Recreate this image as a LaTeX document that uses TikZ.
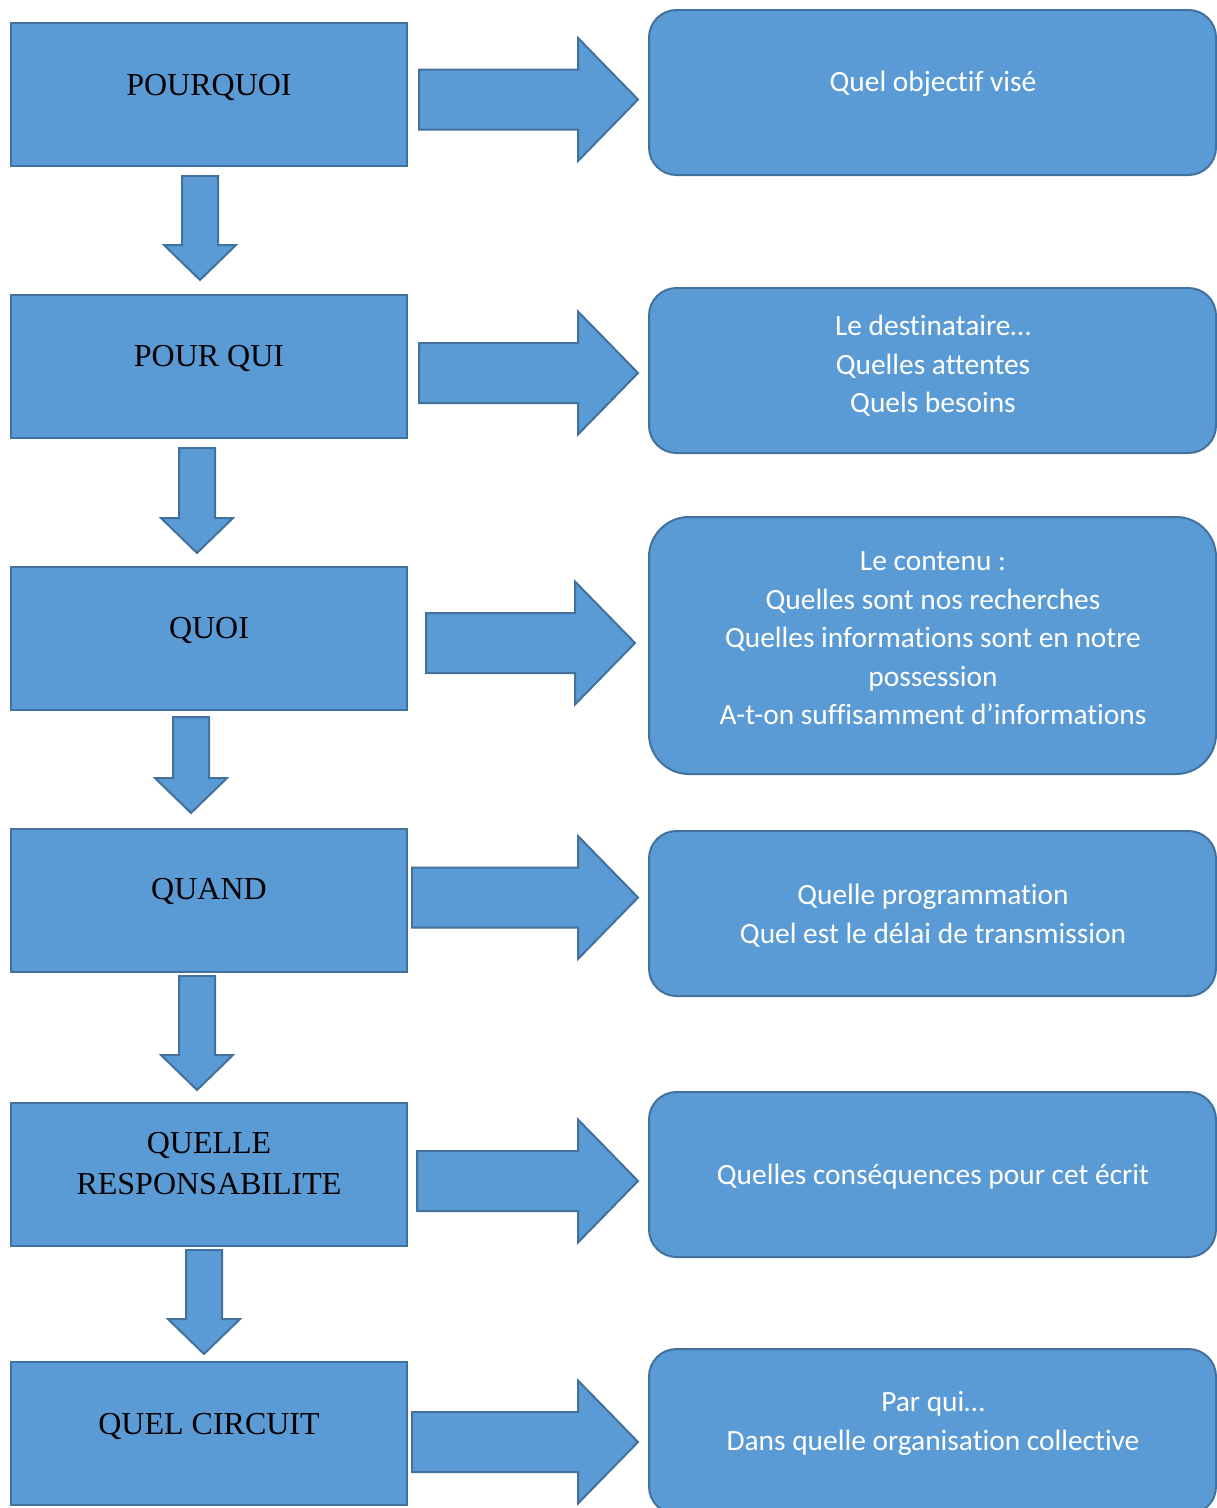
\documentclass[tikz,border=0pt]{standalone}
\usepackage{fontspec}
\setmainfont{Liberation Serif}
\newfontfamily\calib[Ligatures=NoCommon]{Carlito}
\definecolor{boxfill}{HTML}{5B9BD5}
\definecolor{boxline}{HTML}{41719C}
\tikzset{
  shapestyle/.style={fill=boxfill, draw=boxline, line width=2pt, line join=miter},
  question/.style={shapestyle, rectangle, minimum width=396pt, minimum height=143pt, inner sep=0pt},
  answer/.style={shapestyle, rectangle, rounded corners=#1, minimum width=567pt, inner sep=0pt},
  answer/.default=27.5pt,
  qtext/.style={font=\fontsize{32}{41}\selectfont, text=black, align=center},
  atext/.style={font=\calib\fontsize{29.4}{38.5}\selectfont, text=white, align=center},
}
% block arrow pointing right: #1 shaft start x, #2 head start x, #3 tip x, #4 centre y
\newcommand{\rightblock}[4]{%
  \draw[shapestyle] (#1,#4-30) -- (#2,#4-30) -- (#2,#4-61.5) -- (#3,#4)
    -- (#2,#4+61.5) -- (#2,#4+30) -- (#1,#4+30) -- cycle;}
% block arrow pointing down: #1 centre x, #2 shaft start y, #3 head start y, #4 tip y
\newcommand{\downblock}[4]{%
  \draw[shapestyle] (#1-18,#2) -- (#1+18,#2) -- (#1+18,#3) -- (#1+36,#3) -- (#1,#4)
    -- (#1-36,#3) -- (#1-18,#3) -- cycle;}
\begin{document}
\begin{tikzpicture}[x=1pt, y=-1pt]
\useasboundingbox (0,0) rectangle (1217,1508);
\begin{scope}
\clip (0,0) rectangle (1217,1508);

% question column
\node[question] (q1) at (209,94.5) {};
\node[question] (q2) at (209,366.5) {};
\node[question] (q3) at (209,638.5) {};
\node[question] (q4) at (209,900) {};
\node[question] (q5) at (209,1174.5) {};
\node[question] (q6) at (209,1433.5) {};

\node[qtext] (lq1) at (209,87) {POURQUOI};
\node[qtext] (lq2) at (209,358) {POUR QUI};
\node[qtext] (lq3) at (209,630) {QUOI};
\node[qtext] (lq4) at (209,891) {QUAND};
\node[qtext] (lq5) at (209,1163.5) {QUELLE\\RESPONSABILITE};
\node[qtext] (lq6) at (209,1426) {QUEL CIRCUIT};

% answer column
\node[answer, minimum height=165pt] (a1) at (932.5,92.5) {};
\node[answer, minimum height=165pt] (a2) at (932.5,370.5) {};
\node[answer=40pt, minimum height=257pt] (a3) at (932.5,645.5) {};
\node[answer, minimum height=165pt] (a4) at (932.5,913.5) {};
\node[answer, minimum height=165pt] (a5) at (932.5,1174.5) {};
\node[answer, minimum height=165pt] (a6) at (932.5,1431.5) {};

\node[atext] (la1) at (933,84) {Quel objectif visé};
\node[atext] (la2) at (933,366) {Le destinataire…\\Quelles attentes\\Quels besoins};
\node[atext] (la3) at (933,638.5) {Le contenu :\\Quelles sont nos recherches\\Quelles informations sont en notre\\possession\\A-t-on suffisamment d’informations};
\node[atext] (la4) at (933,915.5) {Quelle programmation\\Quel est le délai de transmission};
\node[atext] (la5) at (933,1177) {Quelles conséquences pour cet écrit};
\node[atext] (la6) at (933,1423.5) {Par qui…\\Dans quelle organisation collective};

% arrows towards the answers
\rightblock{419}{578}{638}{99.5}
\rightblock{419}{578}{638}{373}
\rightblock{426}{575}{635}{643}
\rightblock{412}{578}{638}{897.5}
\rightblock{417}{578}{638}{1181}
\rightblock{412}{578}{638}{1442}

% arrows between the questions
\downblock{200}{176}{245}{280}
\downblock{197}{448}{518}{553}
\downblock{191}{717}{778}{813}
\downblock{197}{976}{1055}{1090}
\downblock{204}{1250}{1319}{1354}
\end{scope}
\end{tikzpicture}
\end{document}
